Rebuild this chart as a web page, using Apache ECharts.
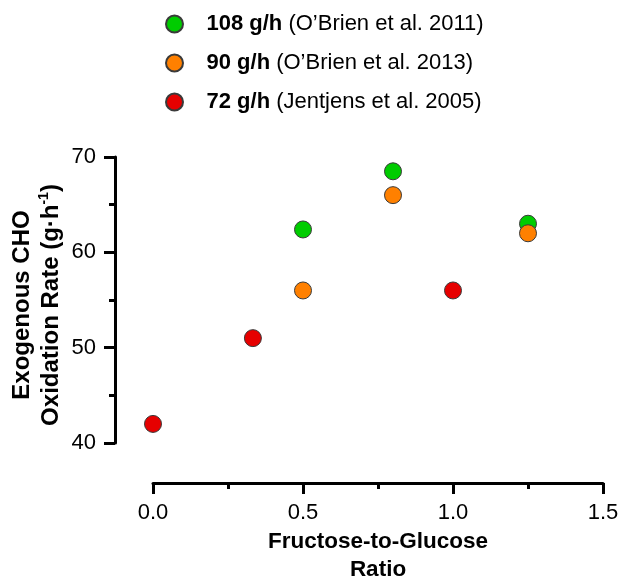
<!DOCTYPE html>
<html lang="en">
<head>
    <meta charset="utf-8">
    <title>Exogenous CHO oxidation</title>
    <style>
        html, body { margin: 0; padding: 0; background: #fff; }
        #chart { width: 620px; height: 581px; }
    </style>
</head>
<body>
<div id="chart"></div>
<script src="https://cdn.jsdelivr.net/npm/echarts@6.0.0/dist/echarts.min.js"></script>
<script type="text/javascript">

// 数据
var seriesNames = ['108 g/h', '90 g/h', '72 g/h'];
var seriesRefs = ['(O\u2019Brien et al. 2011)', '(O\u2019Brien et al. 2013)', '(Jentjens et al. 2005)'];
var seriesColors = ['#00cc00', '#ff8000', '#e60000'];

var ratio108 = [0.5, 0.8, 1.25];
var rate108 = [62.4, 68.5, 63];
var ratio90 = [0.5, 0.8, 1.25];
var rate90 = [56, 66, 62];
var ratio72 = [0, 0.333, 1.0];
var rate72 = [42, 51, 56];

var xTicks = [0, 0.5, 1.0, 1.5];
var yTicks = [40, 50, 60, 70];

function pairs(xs, ys) {
    return xs.map((x, i) => [x, ys[i]]);
}

var chart = echarts.init(document.getElementById('chart'));

var font = 'Liberation Sans, Arial, sans-serif';
var axisLineStyle = { color: '#000', width: 3 };

function dot(i) {
    return { color: seriesColors[i], opacity: 1, borderColor: '#3a3a3a', borderWidth: 1 };
}

var option = {
    animation: false,
    textStyle: { fontFamily: font },
    legend: {
        orient: 'vertical',
        left: 160,
        top: 8,
        icon: 'circle',
        itemWidth: 54,
        itemHeight: 17,
        itemGap: 17,
        selectedMode: false,
        data: seriesNames,
        formatter: function (name) {
            var i = seriesNames.indexOf(name);
            return '{b|' + name + '} ' + seriesRefs[i];
        },
        textStyle: {
            fontFamily: font,
            fontSize: 22,
            color: '#000',
            lineHeight: 22,
            rich: {
                b: { fontFamily: font, fontSize: 22, fontWeight: 'bold', color: '#000', lineHeight: 22 }
            }
        }
    },
    grid: {
        left: 153,
        right: 17,
        top: 157,
        bottom: 138,
        containLabel: false,
        outerBoundsMode: 'none'
    },
    xAxis: {
        type: 'value',
        min: xTicks[0],
        max: xTicks[xTicks.length - 1],
        interval: 0.5,
        offset: 40,
        name: 'Fructose-to-Glucose\nRatio',
        nameLocation: 'middle',
        nameGap: 45,
        nameMoveOverlap: false,
        nameTextStyle: { fontFamily: font, fontSize: 22.5, fontWeight: 'bold', color: '#000', lineHeight: 28 },
        axisLine: { show: true, onZero: false, lineStyle: axisLineStyle },
        axisTick: { show: true, length: 11, lineStyle: axisLineStyle },
        minorTick: { show: true, splitNumber: 2, length: 6, lineStyle: axisLineStyle },
        splitLine: { show: false },
        axisLabel: {
            margin: 19,
            fontSize: 22,
            color: '#000',
            formatter: function (v) { return v.toFixed(1); }
        }
    },
    yAxis: {
        type: 'value',
        min: yTicks[0],
        max: yTicks[yTicks.length - 1],
        interval: 10,
        offset: 38,
        name: 'Exogenous CHO\nOxidation Rate (g\u00b7h{sup|-1})',
        nameLocation: 'middle',
        nameRotate: 90,
        nameGap: 49,
        nameMoveOverlap: false,
        nameTextStyle: {
            fontFamily: font, fontSize: 24, fontWeight: 'bold', color: '#000', lineHeight: 29,
            padding: [0, 10, 0, 0],
            rich: {
                sup: { fontFamily: font, fontSize: 14, fontWeight: 'bold', color: '#000', verticalAlign: 'top', lineHeight: 29, padding: [0, 0, 12, 0] }
            }
        },
        axisLine: { show: true, onZero: false, lineStyle: axisLineStyle },
        axisTick: { show: true, length: 11, lineStyle: axisLineStyle },
        minorTick: { show: true, splitNumber: 2, length: 6, lineStyle: axisLineStyle },
        splitLine: { show: false },
        axisLabel: {
            margin: 19,
            fontSize: 22,
            color: '#000'
        }
    },
    series: [
        { name: seriesNames[0], type: 'scatter', symbolSize: 17, data: pairs(ratio108, rate108), itemStyle: dot(0) },
        { name: seriesNames[1], type: 'scatter', symbolSize: 17, data: pairs(ratio90, rate90), itemStyle: dot(1) },
        { name: seriesNames[2], type: 'scatter', symbolSize: 17, data: pairs(ratio72, rate72), itemStyle: dot(2) }
    ]
};

chart.setOption(option);

</script>
</body>
</html>
